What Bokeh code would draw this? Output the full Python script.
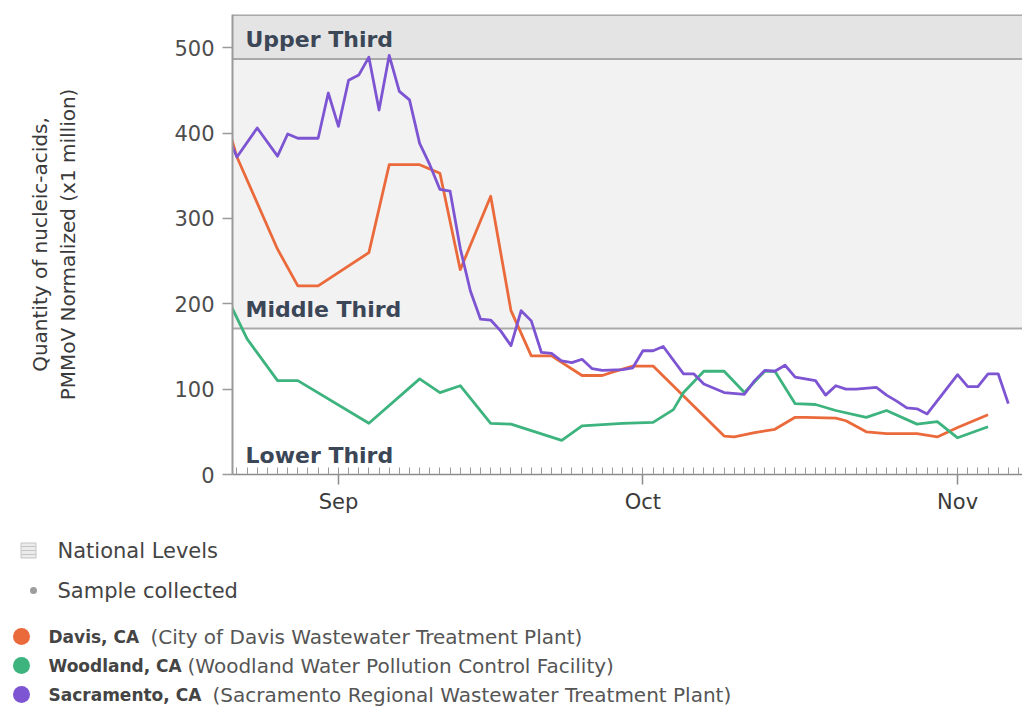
import pandas as pd
from bokeh.plotting import figure
from bokeh.models import ColumnDataSource, BoxAnnotation, Span, Label, FixedTicker, DatetimeTickFormatter, Range1d
from bokeh.core.properties import value
from bokeh.embed import file_html
from bokeh.resources import INLINE

# ---------------- data ----------------
davis_dates = ["2023-08-21", "2023-08-22", "2023-08-26", "2023-08-28", "2023-08-30", "2023-09-04",
               "2023-09-06", "2023-09-09", "2023-09-11", "2023-09-13", "2023-09-16", "2023-09-18",
               "2023-09-20", "2023-09-22", "2023-09-25", "2023-09-27", "2023-09-28", "2023-09-30",
               "2023-10-02", "2023-10-09", "2023-10-10", "2023-10-12", "2023-10-14", "2023-10-16",
               "2023-10-17", "2023-10-20", "2023-10-21", "2023-10-23", "2023-10-25", "2023-10-28",
               "2023-10-30", "2023-11-01", "2023-11-04"]
davis_values = [413, 372, 264, 221, 221, 260, 363, 363, 353, 240, 326, 192,
                139, 139, 116, 116, 120, 127, 127, 45, 44, 49, 53, 67,
                67, 66, 63, 50, 48, 48, 44, 55, 70]

woodland_dates = ["2023-08-21", "2023-08-23", "2023-08-26", "2023-08-28", "2023-09-04", "2023-09-09",
                  "2023-09-11", "2023-09-13", "2023-09-16", "2023-09-18", "2023-09-23", "2023-09-25",
                  "2023-09-29", "2023-10-02", "2023-10-04", "2023-10-05", "2023-10-07", "2023-10-09",
                  "2023-10-11", "2023-10-13", "2023-10-14", "2023-10-16", "2023-10-18", "2023-10-20",
                  "2023-10-23", "2023-10-25", "2023-10-28", "2023-10-30", "2023-11-01", "2023-11-04"]
woodland_values = [208, 159, 110, 110, 60, 112, 96, 104, 60, 59, 40, 57,
                   60, 61, 76, 96, 121, 121, 96, 121, 121, 83, 82, 75,
                   67, 75, 59, 62, 43, 56]

sacramento_dates = ["2023-08-21", "2023-08-22", "2023-08-24", "2023-08-26", "2023-08-27", "2023-08-28",
                    "2023-08-30", "2023-08-31", "2023-09-01", "2023-09-02", "2023-09-03", "2023-09-04",
                    "2023-09-05", "2023-09-06", "2023-09-07", "2023-09-08", "2023-09-09", "2023-09-10",
                    "2023-09-11", "2023-09-12", "2023-09-13", "2023-09-14", "2023-09-15", "2023-09-16",
                    "2023-09-17", "2023-09-18", "2023-09-19", "2023-09-20", "2023-09-21", "2023-09-22",
                    "2023-09-23", "2023-09-24", "2023-09-25", "2023-09-26", "2023-09-27", "2023-09-29",
                    "2023-09-30", "2023-10-01", "2023-10-02", "2023-10-03", "2023-10-05", "2023-10-06",
                    "2023-10-07", "2023-10-09", "2023-10-11", "2023-10-12", "2023-10-13", "2023-10-14",
                    "2023-10-15", "2023-10-16", "2023-10-17", "2023-10-18", "2023-10-19", "2023-10-20",
                    "2023-10-21", "2023-10-22", "2023-10-24", "2023-10-25", "2023-10-26", "2023-10-27",
                    "2023-10-28", "2023-10-29", "2023-11-01", "2023-11-02", "2023-11-03", "2023-11-04",
                    "2023-11-05", "2023-11-06"]
sacramento_values = [399, 372, 406, 373, 399, 394, 394, 447, 408, 462, 468, 489,
                     427, 491, 449, 439, 388, 363, 334, 332, 265, 215, 182, 181,
                     168, 151, 192, 180, 143, 142, 133, 131, 135, 124, 122, 123,
                     125, 145, 145, 150, 118, 118, 106, 96, 94, 110, 122, 121,
                     128, 114, 112, 110, 93, 104, 100, 100, 102, 93, 86, 78,
                     77, 71, 117, 103, 103, 118, 118, 83]

upper_third_min = 487
middle_third_min = 171
band_names = ["Upper Third", "Middle Third", "Lower Third"]
month_ticks = ["2023-09-01", "2023-10-01", "2023-11-01"]
y_ticks = [0, 100, 200, 300, 400, 500]

site_names = ["Davis, CA", "Woodland, CA", "Sacramento, CA"]
facility_names = ["(City of Davis Wastewater Treatment Plant)",
                  "(Woodland Water Pollution Control Facility)",
                  "(Sacramento Regional Wastewater Treatment Plant)"]
site_colors = ["#EB6A3C", "#3DB37E", "#7D55D3"]
legend_extra = ["National Levels", "Sample collected"]


def ms(s):
    return pd.Timestamp(s).value // 10**6


x_start = pd.Timestamp("2023-08-21 13:30")
x_end = pd.Timestamp("2023-11-07 09:30")

FONT = "DejaVu Sans"

p = figure(width=1022, height=530, x_axis_type="datetime",
           x_range=Range1d(x_start, x_end), y_range=Range1d(0, 539),
           output_backend="svg", toolbar_location=None,
           min_border_left=232, min_border_right=0, min_border_top=14, min_border_bottom=56)
p.outline_line_color = None
p.grid.grid_line_color = None
p.background_fill_color = "white"
p.border_fill_color = "white"

# national level bands
p.add_layout(BoxAnnotation(bottom=upper_third_min, fill_color="#e4e4e4", fill_alpha=1,
                           line_color=None, level="underlay"))
p.add_layout(BoxAnnotation(bottom=middle_third_min, top=upper_third_min, fill_color="#f2f2f2",
                           fill_alpha=1, line_color=None, level="underlay"))
for loc in [upper_third_min, middle_third_min, 538.3]:
    p.add_layout(Span(location=loc, dimension="width", line_color="#a9a9a9",
                      line_width=2, level="underlay"))

for name, bottom in zip(band_names, [upper_third_min, middle_third_min, 0]):
    p.add_layout(Label(x=ms(x_start), y=bottom, x_offset=13, y_offset=19, text=name,
                       text_font=FONT, text_font_style="bold", text_font_size="22px",
                       text_color="#3b4657", text_baseline="alphabetic"))

series = [(davis_dates, davis_values), (woodland_dates, woodland_values),
          (sacramento_dates, sacramento_values)]
for (d, v), c in zip(series, site_colors):
    src = ColumnDataSource(dict(date=pd.to_datetime(d), value=v))
    p.line("date", "value", source=src, line_color=c, line_width=2.8, line_join="round")

# axes
minor_days = [ms(t) for t in pd.date_range("2023-08-22", "2023-11-07", freq="D")]
p.xaxis.ticker = FixedTicker(ticks=[ms(t) for t in month_ticks], minor_ticks=minor_days)
p.xaxis.formatter = DatetimeTickFormatter(days="%b", months="%b", years="%b", hours="%b",
                                          minutes="%b", seconds="%b", milliseconds="%b")
p.xaxis.axis_line_color = "#8c8c8c"
p.xaxis.axis_line_width = 1.5
p.xaxis.major_tick_line_color = "#8c8c8c"
p.xaxis.major_tick_line_width = 1.5
p.xaxis.major_tick_out = 10
p.xaxis.major_tick_in = 0
p.xaxis.minor_tick_line_color = "#9a9a9a"
p.xaxis.minor_tick_line_width = 1
p.xaxis.minor_tick_in = 7
p.xaxis.minor_tick_out = 0
p.xaxis.major_label_text_font = FONT
p.xaxis.major_label_text_font_size = "21px"
p.xaxis.major_label_text_color = "#3a3a3a"
p.xaxis.major_label_standoff = 5

p.yaxis.ticker = FixedTicker(ticks=y_ticks)
p.yaxis.axis_line_color = "#9a9a9a"
p.yaxis.axis_line_width = 2
p.yaxis.major_tick_line_color = "#9a9a9a"
p.yaxis.major_tick_line_width = 1.5
p.yaxis.major_tick_out = 10
p.yaxis.major_tick_in = 0
p.yaxis.minor_tick_line_color = None
p.yaxis.major_label_text_font = FONT
p.yaxis.major_label_text_font_size = "21px"
p.yaxis.major_label_text_color = "#4d4d4d"
p.yaxis.major_label_standoff = 8
p.yaxis.axis_label = "Quantity of nucleic-acids,\nPMMoV Normalized (x1 million)"
p.yaxis.axis_label_text_font = FONT
p.yaxis.axis_label_text_font_style = "normal"
p.yaxis.axis_label_text_font_size = "20px"
p.yaxis.axis_label_text_color = "#3a3a3a"
p.yaxis.axis_label_standoff = 91

# ---------------- legend ----------------
lg = figure(width=1022, height=180, x_range=Range1d(0, 1022), y_range=Range1d(180, 0),
            output_backend="svg", toolbar_location=None, min_border=0,
            x_axis_type=None, y_axis_type=None)
lg.outline_line_color = None
lg.background_fill_color = "white"
lg.border_fill_color = "white"

# National levels icon
lg.rect(x=[28], y=[20], width=15, height=15, fill_color="#ececec", line_color="#c4c4c4", line_width=1)
lg.segment(x0=[21, 21, 21], y0=[16, 20, 24], x1=[35, 35, 35], y1=[16, 20, 24],
           line_color="#c4c4c4", line_width=1)
lg.scatter(x=[33], y=[60], size=7, marker="circle", fill_color="#9d9d9d", line_color=None)
lg.text(x=[57, 57], y=[20, 60], text=legend_extra, text_font=value(FONT),
        text_font_size=value("21px"), text_color="#444444", text_baseline="middle")

row_y = [106, 135, 164]
lg.scatter(x=[21, 21, 21], y=row_y, size=17, marker="circle", fill_color=site_colors, line_color=None)
lg.text(x=[48, 48, 48], y=row_y, text=site_names, text_font=value(FONT),
        text_font_size=value("17px"), text_font_style="bold", text_color="#444444",
        text_baseline="middle")
lg.text(x=[150, 187, 212], y=row_y, text=facility_names, text_font=value(FONT),
        text_font_size=value("20px"), text_color="#555555", text_baseline="middle")

open("out.html", "w").write(file_html([p, lg], INLINE))
